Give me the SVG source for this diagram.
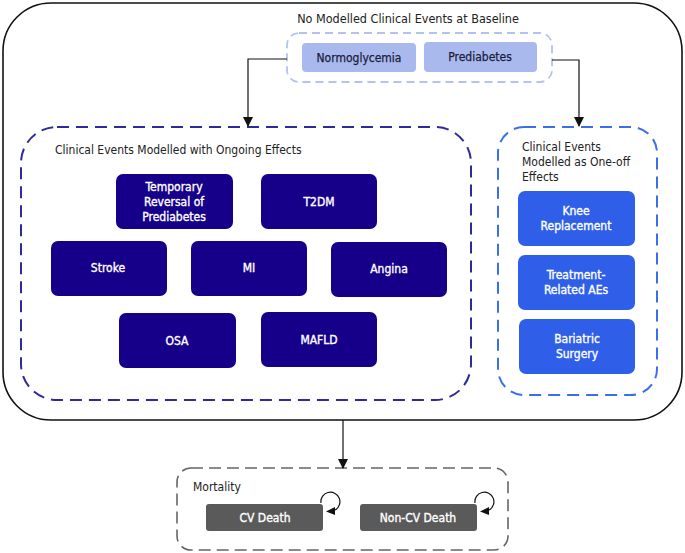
<svg xmlns="http://www.w3.org/2000/svg" width="685" height="553" viewBox="0 0 685 553">
<defs>
<style>
text{font-family:"DejaVu Sans Condensed","DejaVu Sans","Liberation Sans",sans-serif;font-size:12px;}
.w{fill:#ffffff;stroke:#ffffff;stroke-width:0.35;text-anchor:middle;}
.d{fill:#222222;}
.dn{fill:#1c1c3c;stroke:#1c1c3c;stroke-width:0.25;text-anchor:middle;}
.c{text-anchor:middle;}
.navy{fill:#16008a;}
.blue{fill:#2f5fe8;}
.pale{fill:#a9b9ee;}
.grey{fill:#5a5a5a;}
.conn{fill:none;stroke:#111;stroke-width:1.2;}
</style>
<marker id="ah" markerWidth="10" markerHeight="10" refX="9" refY="5" orient="auto" markerUnits="userSpaceOnUse">
<path d="M0,0 L10,5 L0,10 Z" fill="#111"/>
</marker>
</defs>
<rect width="685" height="553" fill="#ffffff"/>
<g id="outer">
<rect x="3" y="3" width="679" height="417" rx="48" fill="none" stroke="#111" stroke-width="1.6"/>
</g>
<g id="baseline">
<text x="408" y="23" class="d c" style="font-size:12.5px">No Modelled Clinical Events at Baseline</text>
<rect x="287" y="33" width="265" height="49" rx="12" fill="none" stroke="#b3c2f0" stroke-width="1.8" stroke-dasharray="8,5"/>
</g>
<g id="normoglycemia">
<rect x="302" y="43" width="114" height="29" rx="4" class="pale"/>
<text x="359" y="62" class="dn">Normoglycemia</text>
</g>
<g id="prediabetes">
<rect x="424" y="42" width="113" height="30" rx="4" class="pale"/>
<text x="480" y="61" class="dn">Prediabetes</text>
</g>
<g id="ongoing">
<rect x="21" y="127" width="450" height="273" rx="36" fill="none" stroke="#2e2a9c" stroke-width="2" stroke-dasharray="12,7"/>
<text x="55" y="154" class="d">Clinical Events Modelled with Ongoing Effects</text>
</g>
<g id="temporary">
<rect x="116" y="174" width="117" height="55" rx="7" class="navy"/>
<text x="174" y="191" class="w">Temporary</text>
<text x="174" y="206" class="w">Reversal of</text>
<text x="174" y="221" class="w">Prediabetes</text>
</g>
<g id="t2dm">
<rect x="261" y="174" width="116" height="55" rx="7" class="navy"/>
<text x="319" y="206" class="w">T2DM</text>
</g>
<g id="stroke">
<rect x="51" y="241" width="116" height="55" rx="7" class="navy"/>
<text x="108" y="272" class="w">Stroke</text>
</g>
<g id="mi">
<rect x="191" y="241" width="116" height="55" rx="7" class="navy"/>
<text x="249" y="272" class="w">MI</text>
</g>
<g id="angina">
<rect x="331" y="242" width="116" height="55" rx="7" class="navy"/>
<text x="389" y="273" class="w">Angina</text>
</g>
<g id="osa">
<rect x="119" y="313" width="117" height="55" rx="7" class="navy"/>
<text x="177" y="345" class="w">OSA</text>
</g>
<g id="mafld">
<rect x="261" y="312" width="116" height="55" rx="7" class="navy"/>
<text x="319" y="344" class="w">MAFLD</text>
</g>
<g id="oneoff">
<rect x="498" y="127" width="159" height="268" rx="26" fill="none" stroke="#3a6fe6" stroke-width="2" stroke-dasharray="12,7"/>
<text x="522" y="151" class="d">Clinical Events</text>
<text x="522" y="166" class="d">Modelled as One-off</text>
<text x="522" y="181" class="d">Effects</text>
</g>
<g id="knee">
<rect x="518" y="191" width="117" height="55" rx="7" class="blue"/>
<text x="576" y="215" class="w">Knee</text>
<text x="576" y="230" class="w">Replacement</text>
</g>
<g id="treatment">
<rect x="518" y="255" width="117" height="55" rx="7" class="blue"/>
<text x="576" y="279" class="w">Treatment-</text>
<text x="576" y="294" class="w">Related AEs</text>
</g>
<g id="bariatric">
<rect x="519" y="319" width="116" height="55" rx="7" class="blue"/>
<text x="577" y="343" class="w">Bariatric</text>
<text x="577" y="358" class="w">Surgery</text>
</g>
<g id="mortality">
<rect x="177" y="468" width="331" height="82" rx="14" fill="none" stroke="#666" stroke-width="1.6" stroke-dasharray="12,6"/>
<text x="193" y="491" class="d">Mortality</text>
</g>
<g id="cvdeath">
<rect x="206" y="504" width="117" height="27" rx="3" class="grey"/>
<text x="265" y="522" class="w">CV Death</text>
</g>
<g id="noncvdeath">
<rect x="360" y="504" width="117" height="27" rx="3" class="grey"/>
<text x="418" y="522" class="w">Non-CV Death</text>
</g>
<g id="connectors">
<path class="conn" d="M287,59 H248 V126" marker-end="url(#ah)"/>
<path class="conn" d="M552,60 H579 V126" marker-end="url(#ah)"/>
<path class="conn" d="M343,420 V468" marker-end="url(#ah)"/>
<path class="conn" d="M321,503 A9.5,9.5 0 1 1 335,510"/>
<path d="M335,507 L326,511.5 L335,515 Z" fill="#111"/>
<path class="conn" d="M475,503 A9.5,9.5 0 1 1 489,510"/>
<path d="M489,507 L480,511.5 L489,515 Z" fill="#111"/>
</g>
</svg>
